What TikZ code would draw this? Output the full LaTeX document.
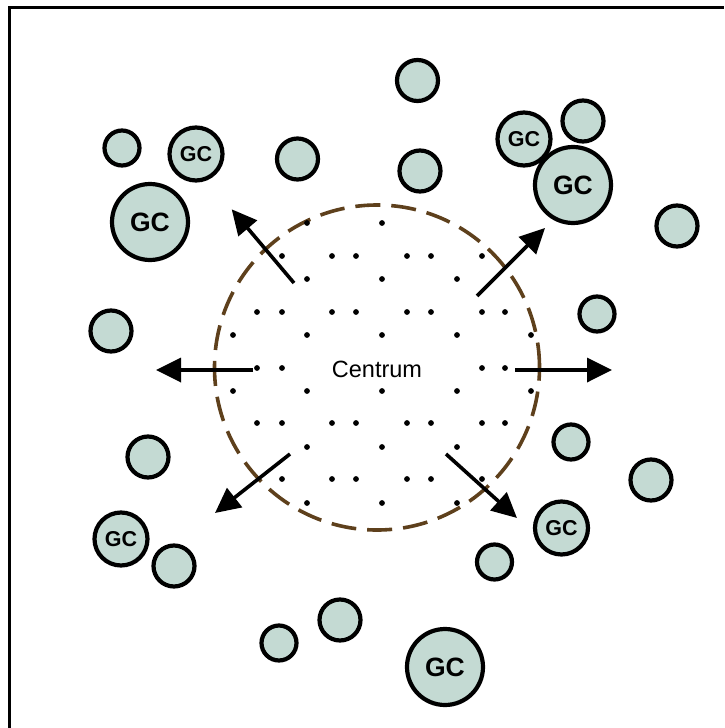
\documentclass[tikz,border=0pt]{standalone}
\usepackage{fontspec}
\setmainfont{Liberation Sans}
\usetikzlibrary{arrows.meta}
\definecolor{gcfill}{HTML}{C4DAD3}
\definecolor{ringbrown}{HTML}{5E401C}
\begin{document}
\begin{tikzpicture}[x=1pt,y=-1pt,
  blob/.style={circle,draw=black,line width=4.2pt,fill=gcfill,inner sep=0pt},
  smallblob/.style={blob,minimum size=35pt},
  midblob/.style={blob,minimum size=41pt},
  gcsmall/.style={blob,minimum size=53pt,font=\fontsize{21.5}{25}\selectfont\bfseries},
  gcbig/.style={blob,minimum size=76pt,font=\fontsize{26.5}{31}\selectfont\bfseries},
  flow/.style={line width=3.6pt,-{Triangle[length=25pt,width=24pt]}},
  ring/.style={circle,draw=ringbrown,line width=3.6pt,dash pattern=on 25pt off 11pt,inner sep=0pt,minimum size=325pt}
]
\useasboundingbox (0,0) rectangle (724,728);
% frame (top and left edges visible)
\draw[line width=3pt] (9.3,728) -- (9.3,7.3) -- (724,7.3);

% central region
\node[ring] (core) at (377,367.5) {};
\foreach \yy/\xs in {223/{307,382},
                     256/{282,332,356,407,431,482},
                     279/{307,382,457},
                     312/{257,282,332,356,407,431,482,505},
                     335/{233,307,382,457,531},
                     368/{257,282,482,505},
                     391/{233,307,382,457,531},
                     423/{257,282,332,356,407,431,482,505},
                     447/{307,382,457},
                     479/{282,332,356,407,431,482},
                     503/{307,382,457}}{
  \foreach \xx in \xs { \fill (\xx,\yy) circle (2.9pt); }
}
\node[anchor=base,font=\fontsize{23.5}{27}\selectfont] (label) at (377,377) {Centrum};

% arrows
\coordinate (ulS) at (294,283);   \coordinate (ulT) at (231.7,209.3);
\coordinate (urS) at (477,296);   \coordinate (urT) at (545,228);
\coordinate (lS)  at (253,370);   \coordinate (lT)  at (156,370);
\coordinate (rS)  at (515,370);   \coordinate (rT)  at (612,370);
\coordinate (llS) at (290,454);   \coordinate (llT) at (215,513);
\coordinate (lrS) at (446,454);   \coordinate (lrT) at (517,518);
\draw[flow] (ulS) -- (ulT);
\draw[flow] (urS) -- (urT);
\draw[flow] (lS) -- (lT);
\draw[flow] (rS) -- (rT);
\draw[flow] (llS) -- (llT);
\draw[flow] (lrS) -- (lrT);

% surrounding cells
\node[midblob]   (c1)  at (417.5,80.5) {};
\node[smallblob] (c2)  at (122,148) {};
\node[gcsmall]   (c3)  at (196,154) {GC};
\node[gcbig]     (c4)  at (150,222) {GC};
\node[midblob]   (c5)  at (297.5,159) {};
\node[midblob]   (c6)  at (420,171) {};
\node[gcsmall]   (c7)  at (524,139) {GC};
\node[midblob]   (c8)  at (583,121) {};
\node[gcbig]     (c9)  at (573,185) {GC};
\node[midblob]   (c10) at (677,226) {};
\node[midblob]   (c11) at (111,331) {};
\node[smallblob] (c12) at (597,314) {};
\node[midblob]   (c13) at (148,457) {};
\node[smallblob] (c14) at (571,442) {};
\node[midblob]   (c15) at (651,480) {};
\node[gcsmall]   (c16) at (121,539) {GC};
\node[midblob]   (c17) at (174,566) {};
\node[gcsmall]   (c18) at (561.5,528) {GC};
\node[smallblob] (c19) at (494.5,562) {};
\node[midblob]   (c20) at (340,620) {};
\node[smallblob] (c21) at (279,643) {};
\node[gcbig]     (c22) at (445,667) {GC};
\end{tikzpicture}
\end{document}
